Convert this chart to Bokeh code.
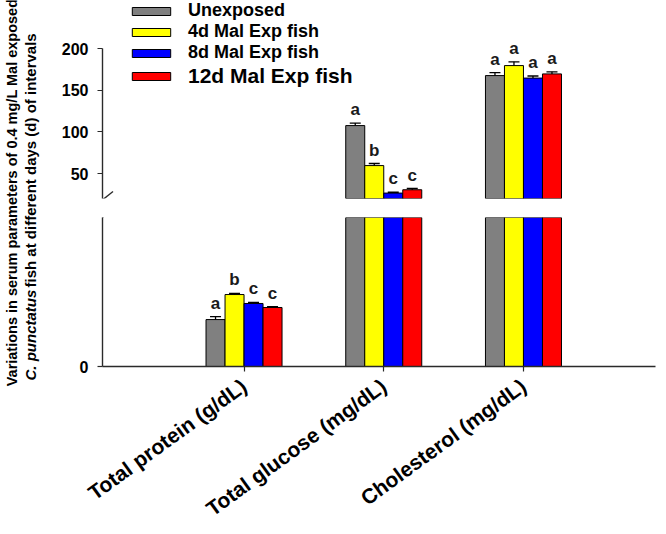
import math
import numpy as np
from bokeh.plotting import figure
from bokeh.models import (ColumnDataSource, FixedTicker, Range1d, Whisker, TeeHead,
                          Legend, LegendItem, Label, Arrow, LinearAxis)
from bokeh.layouts import row, column
from bokeh.embed import file_html
from bokeh.resources import INLINE
from bokeh.core.properties import value

# ---------------- data ----------------
categories = ["Total protein (g/dL)", "Total glucose (mg/dL)", "Cholesterol (mg/dL)"]
groups = ["Unexposed", "4d Mal Exp fish", "8d Mal Exp fish", "12d Mal Exp fish"]
colors = ["#808080", "#FFFF00", "#0000FF", "#FF0000"]

unexposed = [3.15, 107.5, 167.5]
d4_exp = [4.83, 59.5, 179.5]
d8_exp = [4.23, 26.5, 164.5]
d12_exp = [3.96, 30.5, 169.5]

err_unexposed = [0.20, 3.0, 3.5]
err_d4 = [0.08, 2.5, 4.5]
err_d8 = [0.07, 1.0, 2.5]
err_d12 = [0.05, 1.5, 2.5]

letters_unexposed = ["a", "a", "a"]
letters_d4 = ["b", "b", "a"]
letters_d8 = ["c", "c", "a"]
letters_d12 = ["c", "c", "a"]

upper_ticks = [50, 100, 150, 200]
lower_ticks = [0]

series = [unexposed, d4_exp, d8_exp, d12_exp]
errors = [err_unexposed, err_d4, err_d8, err_d12]
letters = [letters_unexposed, letters_d4, letters_d8, letters_d12]

# ---------------- layout constants ----------------
FONT = "Liberation Sans"
LOWER_MIN, LOWER_MAX = 0, 10       # lower panel (below break)
UPPER_MIN, UPPER_MAX = 20, 257.6   # upper panel (above break)
XMIN, XMAX = -0.013, 3.945
BAR_W = 0.136
offsets = [-1.5 * BAR_W, -0.5 * BAR_W, 0.5 * BAR_W, 1.5 * BAR_W]
cat_x = np.arange(1, len(categories) + 1)

LBL_W = 46
MAIN_W = 612
BL, BR = 56, 3
UP_BT, UP_FRAME_H, UP_BB = 0, 198, 10
LO_BT, LO_FRAME_H, LO_BB = 9, 149, 166
AXIS_COLOR = "#2a2a2a"

x_range = Range1d(XMIN, XMAX)

up = figure(width=MAIN_W, height=UP_BT + UP_FRAME_H + UP_BB, x_range=x_range,
            y_range=Range1d(UPPER_MIN, UPPER_MAX), output_backend="svg",
            toolbar_location=None, x_axis_location=None, y_axis_location=None,
            min_border_left=BL, min_border_right=BR, min_border_top=UP_BT,
            min_border_bottom=UP_BB, outline_line_color=None)
lo = figure(width=MAIN_W, height=LO_BT + LO_FRAME_H + LO_BB, x_range=x_range,
            y_range=Range1d(LOWER_MIN, LOWER_MAX), output_backend="svg",
            toolbar_location=None, x_axis_location=None, y_axis_location=None,
            min_border_left=BL, min_border_right=BR, min_border_top=LO_BT,
            min_border_bottom=LO_BB, outline_line_color=None)
for f in (up, lo):
    f.xgrid.visible = False
    f.ygrid.visible = False
    f.background_fill_color = "white"
    f.border_fill_color = "white"


def style_axis(ax, size="16px"):
    ax.axis_line_color = AXIS_COLOR
    ax.axis_line_width = 1.4
    ax.major_tick_line_color = AXIS_COLOR
    ax.major_tick_line_width = 1.2
    ax.minor_tick_line_color = None
    ax.major_tick_in = 0
    ax.major_tick_out = 5
    ax.major_label_text_font = FONT
    ax.major_label_text_font_style = "bold"
    ax.major_label_text_font_size = size
    ax.major_label_text_color = "black"


ay_up = LinearAxis(ticker=FixedTicker(ticks=upper_ticks), bounds=(UPPER_MIN, 200))
style_axis(ay_up)
ay_up.major_label_standoff = 9
up.add_layout(ay_up, "left")

ay_lo = LinearAxis(ticker=FixedTicker(ticks=lower_ticks), bounds=(LOWER_MIN, LOWER_MAX))
style_axis(ay_lo)
ay_lo.major_label_standoff = 9
lo.add_layout(ay_lo, "left")

ax_lo = LinearAxis(ticker=FixedTicker(ticks=[int(c) for c in cat_x]),
                   major_label_overrides={int(i): c for i, c in zip(cat_x, categories)})
style_axis(ax_lo, "21px")
ax_lo.major_label_orientation = math.radians(36)
ax_lo.major_label_standoff = 12
lo.add_layout(ax_lo, "below")

renderers = []
for s, e, lt, col, off in zip(series, errors, letters, colors, offsets):
    vals = np.array(s, dtype=float)
    err = np.array(e, dtype=float)
    xs = cat_x + off
    # lower panel bars
    src_lo = ColumnDataSource(dict(x=xs, top=np.minimum(vals, LOWER_MAX),
                                   bottom=np.full(len(vals), LOWER_MIN)))
    lo.vbar(x="x", top="top", bottom="bottom", width=BAR_W, source=src_lo,
            fill_color=col, line_color="black", line_width=1)
    # upper panel bars (only values beyond the break)
    m = vals > UPPER_MIN
    src_up = ColumnDataSource(dict(x=xs[m], top=vals[m], bottom=np.full(int(m.sum()), UPPER_MIN)))
    ru = up.vbar(x="x", top="top", bottom="bottom", width=BAR_W, source=src_up,
                 fill_color=col, line_color="black", line_width=1)
    renderers.append(ru)
    # error bars + letters
    for fig, mask in ((lo, vals < LOWER_MAX), (up, vals > UPPER_MIN)):
        if mask.sum() == 0:
            continue
        es = ColumnDataSource(dict(x=xs[mask], up=(vals + err)[mask], low=(vals - err)[mask],
                                   txt=[t for t, k in zip(lt, mask) if k]))
        w = Whisker(source=es, base="x", upper="up", lower="low",
                    line_color="black", line_width=1.3,
                    upper_head=TeeHead(size=11, line_color="black", line_width=1.3),
                    lower_head=TeeHead(size=11, line_color="black", line_width=1.3))
        fig.add_layout(w)
        fig.text(x="x", y="up", text="txt", source=es, text_align="center",
                 text_baseline="bottom", y_offset=-4, text_font=value(FONT),
                 text_font_style="bold", text_font_size="17px", text_color="#1a1a1a")

# legends
leg1 = Legend(items=[LegendItem(label=g, renderers=[r]) for g, r in zip(groups[:3], renderers[:3])],
              location=(25, 135), orientation="vertical")
leg2 = Legend(items=[LegendItem(label=groups[3], renderers=[renderers[3]])],
              location=(25, 110), orientation="vertical")
for lg, fs in ((leg1, "18px"), (leg2, "21px")):
    lg.glyph_width = 48
    lg.glyph_height = 10
    lg.label_standoff = 13
    lg.label_height = 21
    lg.spacing = 0
    lg.padding = 0
    lg.margin = 0
    lg.border_line_color = None
    lg.background_fill_alpha = 0
    lg.label_text_font = FONT
    lg.label_text_font_style = "bold"
    lg.label_text_font_size = fs
    lg.label_text_color = "black"
    up.add_layout(lg, "center")

# axis break marks
ppx = (MAIN_W - BL - BR) / (XMAX - XMIN)
ppu_up = UP_FRAME_H / (UPPER_MAX - UPPER_MIN)
ppu_lo = LO_FRAME_H / (LOWER_MAX - LOWER_MIN)
dx0, dx1 = -9.5 / ppx, 10.5 / ppx
up.add_layout(Arrow(x_start=XMIN + dx0, y_start=UPPER_MIN - 9 / ppu_up,
                    x_end=XMIN + dx1, y_end=UPPER_MIN + 7 / ppu_up,
                    start=None, end=None, line_color=AXIS_COLOR, line_width=1.4))
lo.add_layout(Arrow(x_start=XMIN + dx0, y_start=LOWER_MAX - 8 / ppu_lo,
                    x_end=XMIN + dx1, y_end=LOWER_MAX + 9 / ppu_lo,
                    start=None, end=None, line_color=AXIS_COLOR, line_width=1.4))

# y-axis title in a narrow side figure
TOTAL_H = UP_BT + UP_FRAME_H + UP_BB + LO_BT + LO_FRAME_H + LO_BB
lf = figure(width=LBL_W, height=TOTAL_H, x_range=Range1d(0, LBL_W), y_range=Range1d(0, TOTAL_H),
            output_backend="svg", toolbar_location=None, x_axis_location=None,
            y_axis_location=None, min_border=0, outline_line_color=None)
lf.xgrid.visible = False
lf.ygrid.visible = False
lf.add_layout(Label(x=11, y=TOTAL_H - 192, text="Variations in serum parameters of 0.4 mg/L Mal exposed",
                    angle=math.pi / 2, text_align="center", text_baseline="middle",
                    text_font=FONT, text_font_style="bold", text_font_size="14.5px",
                    text_color="black"))
y2 = TOTAL_H - 380
lf.add_layout(Label(x=30, y=y2, text="C. punctatus",
                    angle=math.pi / 2, text_align="left", text_baseline="middle",
                    text_font=FONT, text_font_style="bold italic", text_font_size="15px",
                    text_color="black"))
lf.add_layout(Label(x=30, y=y2 + 93, text="fish at different days (d) of intervals",
                    angle=math.pi / 2, text_align="left", text_baseline="middle",
                    text_font=FONT, text_font_style="bold", text_font_size="15px",
                    text_color="black"))

layout = row(lf, column(up, lo, spacing=0), spacing=0)
open("out.html", "w").write(file_html(layout, INLINE))
